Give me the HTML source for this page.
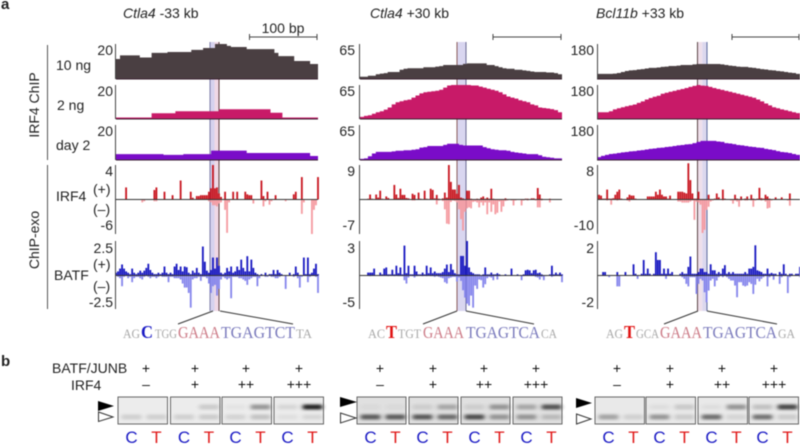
<!DOCTYPE html>
<html lang="en">
<head>
<meta charset="utf-8">
<title>ChIP and ChIP-exo tracks with gel shift</title>
<style>
html,body{margin:0;padding:0;background:#fff;width:800px;height:445px;overflow:hidden}
svg{display:block;font-family:"Liberation Sans",sans-serif;filter:blur(0.45px)}
text{fill:#222}
</style>
</head>
<body>
<svg id="fig" xmlns="http://www.w3.org/2000/svg" width="800" height="445" viewBox="0 0 800 445">
  <rect width="800" height="445" fill="#fff"/>
  <text x="1" y="9" font-size="15" font-weight="bold" fill="#000">a</text>
  <text x="1" y="366" font-size="15" font-weight="bold" fill="#000">b</text>

  <text x="123" y="18" font-size="14"><tspan font-style="italic">Ctla4</tspan> -33 kb</text>
  <text x="370" y="18" font-size="14"><tspan font-style="italic">Ctla4</tspan> +30 kb</text>
  <text x="596" y="18" font-size="14"><tspan font-style="italic">Bcl11b</tspan> +33 kb</text>
  <text x="283" y="33" font-size="14" text-anchor="middle">100 bp</text>

  <text transform="translate(39,105) rotate(-90)" font-size="14" text-anchor="middle">IRF4 ChIP</text>
  <text transform="translate(39,240) rotate(-90)" font-size="14" text-anchor="middle">ChIP-exo</text>
  <line x1="47.5" x2="47.5" y1="45" y2="160" stroke="#555"/>
  <line x1="47.5" x2="47.5" y1="165" y2="309" stroke="#555"/>

  <text x="56" y="70" font-size="14">10 ng</text>
  <text x="57" y="110" font-size="14">2 ng</text>
  <text x="56" y="150" font-size="14">day 2</text>
  <text x="56" y="201" font-size="14">IRF4</text>
  <text x="54" y="280" font-size="14">BATF</text>
  <text x="93" y="194" font-size="14">(+)</text>
  <text x="93" y="214" font-size="14">(–)</text>
  <text x="93" y="269" font-size="14">(+)</text>
  <text x="93" y="291" font-size="14">(–)</text>

  <g id="tracks"></g>

  <text x="52" y="373" font-size="14">BATF/JUNB</text>
  <text x="71" y="390" font-size="14">IRF4</text>

  <defs>
    <filter id="bandBlur" x="-50%" y="-200%" width="200%" height="500%"><feGaussianBlur stdDeviation="2.2 1.4"/></filter>
  </defs>
  <g id="gels"></g>

  <polygon points="98,401 114,406 98,411" fill="#000"/>
  <polygon points="98.5,412 113,417 98.5,421.500" fill="#fff" stroke="#333"/>
  <polygon points="340,397 357,402 340,407" fill="#000"/>
  <polygon points="340.500,413 356,418 340.500,423" fill="#fff" stroke="#333"/>
  <polygon points="576,398 592,403 576,408" fill="#000"/>
  <polygon points="576.500,414 591,419 576.500,424" fill="#fff" stroke="#333"/>
</svg>

<script>
// ---- Track values (per position bin). ChIP tracks have 51 bins, ChIP-exo tracks 101 bins.
const ctla4Minus33_10ng = [11.4,13.5,13.5,13.5,13.5,13.5,12.3,12.3,12.3,14.9,14.9,14.9,14.9,15.4,15.4,15.4,15.4,15.4,15.4,16.6,16.6,16.6,17.7,17.7,17.7,20,20,20,18.9,18.3,18.3,18.3,18.3,17.1,17.1,17.1,17.1,17.1,17.1,17.1,14.9,13.1,13.1,13.1,13.1,10.3,10.3,10.3,10.3,8.6,8.6];
const ctla4Minus33_2ng = [.9,.9,.9,.9,.9,.9,.9,.9,.9,3.4,3.4,3.4,3.4,3.4,3.4,4.6,4.6,4.6,4.6,4.6,4.6,4.6,4.6,4.6,4.6,4.6,5.7,5.7,5.7,5.7,5.7,5.7,5.7,5.7,5.7,5.7,5.7,5.7,5.7,3.7,3.7,3.7,.9,.9,.9,.9,.9,.9,.9,.9,.9];
const ctla4Minus33_day2 = [3.4,3.4,3.4,3.4,3.4,3.4,3.4,3.4,3.4,3.4,3.4,3.4,2.9,2.9,2.9,2.9,2.9,3.4,3.4,3.4,3.4,3.4,3.4,3.4,5.4,5.4,5.4,5.4,5.4,5.4,5.4,5.4,5.4,4,4,4,4,4,4,4,4,4,4,4,4,4,4,4,4,2.3,2.3];
const ctla4Plus30_10ng = [4,4,6,6,9,10,11,13,13,13,17,19,20,20,20,20,22,22,22,23,24,26,26,26,26,26,28,29,29,29,29,29,26,26,24,22,20,19,19,17,17,16,15,14,13,13,13,12,12,11,9];
const ctla4Plus30_2ng = [4,6,7,10,13,15,18,22,28,32,34,36,37,41,45,49,51,52,53,54,56,60,64,65,65,65,65,65,64,64,62,60,58,56,54,51,47,43,41,39,36,34,32,28,26,22,21,20,19,17,13];
const ctla4Plus30_day2 = [2,3,7,12,15,15,15,15,16,17,17,18,18,19,20,23,24,26,26,26,26,28,30,30,30,28,27,27,27,27,27,24,22,20,19,18,18,17,15,14,13,12,11,11,11,9,6,5,4,3,3];
const bcl11bPlus33_10ng = [26,26,26,26,28,31,36,41,44,46,49,51,54,57,57,59,62,64,67,67,69,72,72,72,75,77,77,77,77,77,77,75,72,69,67,64,62,62,59,57,54,51,49,46,44,41,39,36,33,31,26];
const bcl11bPlus33_2ng = [36,36,36,41,51,57,62,67,72,77,85,93,103,111,118,123,134,139,144,149,154,159,164,170,175,180,177,175,170,164,159,154,149,144,139,134,128,123,118,113,103,93,82,72,62,57,51,46,41,36,31];
const bcl11bPlus33_day2 = [15,21,26,31,33,36,39,41,44,46,49,51,54,57,59,62,64,67,69,72,75,77,80,82,87,93,98,98,98,98,95,93,87,85,82,77,75,72,69,67,64,62,57,54,51,46,41,39,36,31,26];

const ctla4Minus33_irf4Plus = [0,0,0,0,0,1.4,0,0,0,0, 0,0,0,0,0,0,0,0,0,1.1, 1.4,0,0,0,.9,0,0,0,.5,0, 0,0,2.2,0,0,0,0,.9,.2,0, .4,.4,.5,.5,.5,.5,.9,1.3,4,1.3, 1.4,.7,.3,0,.9,0,0,0,.9,0, .9,0,0,0,.9,.6,.5,.5,0,0, 0,0,2.2,.4,0,.9,0,0,0,.5, 0,0,0,0,0,0,0,0,.6,.9, 0,0,2.6,0,0,0,0,0,0,0,2.6];
const ctla4Minus33_irf4Minus = [0,0,0,0,0,0,0,0,0,0, 0,0,0,-.5,-.3,0,0,0,0,-.3, -.3,0,0,0,0,0,0,0,0,0, 0,0,0,0,0,0,0,0,0,0, 0,0,0,0,0,0,-.3,-.5,-1,-1, -1.2,-.7,-.5,0,-1.8,-5.8,-.5,0,0,0, 0,0,0,0,0,0,0,0,-.7,0, 0,0,0,-1.2,-.3,0,-.9,-.3,0,0, 0,0,0,0,-.3,0,0,0,0,0, 0,0,-2.5,-.5,0,0,0,-6,-1.8,-1,0];
const ctla4Minus33_batfPlus = [.2,.3,.5,.8,.5,.3,.2,.1,.5,.2, .1,.2,.35,.2,.35,.55,.85,.4,.2,.1, .1,.2,.1,.2,.65,.2,.1,.2,.1,.65, .85,.4,.65,.3,.65,.6,.2,.1,.35,.2, .55,.2,.1,2.1,1,.35,.2,.4,1.3,.5, 1.3,.7,.2,.1,.2,.55,.3,.65,.2,.3, .65,.4,1.15,.55,.3,1.4,.3,1.15,.55,.2, .1,0,.1,0,.2,0,.1,.1,.4,.1, .4,.2,.1,0,0,0,.2,0,.1,.65, .2,0,0,1.3,.1,1.3,.1,.2,.5,.85,.1];
const ctla4Minus33_batfMinus = [0,-.1,-.2,-.8,-.1,0,-.2,-.1,-.5,-.2, -.1,-.1,-.2,-.3,-.1,0,-.1,-.2,-.1,-.1, -.2,-.1,0,-.1,-.1,-.1,-.5,-.1,-.1,-.2, -.2,-.2,-.3,-.6,-.9,-.9,-1.3,-2.4,-.3,-.2, -.2,-.1,-.4,-.1,-.1,-.2,-.6,-1.3,-.8,-.7, -1.5,-1,-.3,-.1,-.2,-.3,-.2,-1.7,-.1,-.1, -.1,-.2,-.2,-.3,-.4,-.7,-.3,-.2,-.1,-.1, -.8,-.2,0,0,-.1,-.1,0,-.1,-.1,-.2, -.2,-.1,0,0,-1,0,0,0,-.1,0, -.2,-.9,-.1,0,0,-.5,-.1,0,0,-.1,-1.3];

const ctla4Plus30_irf4Plus = [0,0,0,0,.2,1.3,.2,0,1.3,.5, 2.3,.2,0,.8,.4,0,0,3.8,1.3,.4, 2.8,1.2,1.2,.4,.3,0,1.5,1.2,0,1.8, .2,0,2.3,.2,0,2.8,2.5,.3,1.2,.2, 0,.3,1.8,.5,9,4.6,2.6,2.6,1.5,3.8, .5,.3,0,2.3,2.3,.2,0,0,.2,.1, .5,.8,.2,.5,.2,2.8,.2,0,0,0, .1,.1,.3,0,0,0,0,0,0,.1, .1,0,.2,.2,0,.3,.3,.1,3,1.3, .2,0,0,0,.2,0,0,0,.1,.1,0];
const ctla4Plus30_irf4Minus = [0,0,0,0,0,0,0,0,0,0, 0,0,0,0,0,0,0,0,0,0, 0,0,0,0,0,0,-.2,-.2,0,0, 0,0,0,0,0,0,0,0,-1,-.2, 0,-.3,-2,-4.9,-5,-.5,-.2,-.3,-.6,-2, -4,-6.3,-2.5,-1.8,-1.6,-1.8,-.5,-.4,-.6,-1.6, -.6,-1.2,-.6,-3,-.6,-2.5,-1,-3,-2.7,-.4, -2.5,-1.4,-.3,-.2,0,-.2,-1.2,-.2,0,0, -1.2,-.2,0,-.2,0,0,0,-.2,-1.6,-1.6, -.2,0,0,0,-.6,0,0,0,0,0,0];
const ctla4Plus30_batfPlus = [0,0,0,0,.25,.25,.25,.6,0,0, .25,.1,.6,.7,.1,.1,.5,.1,.85,.2, .7,.1,2.6,.2,.85,.1,.1,.85,.35,.1, .1,.25,.1,.85,.2,.7,.2,.35,.2,.2, .2,.3,.6,.95,.3,1,.5,.2,.1,.1, 1.7,1.7,.85,3,.7,.3,.2,.1,.1,.1, 0,.1,.7,.1,.1,.25,.1,.1,.2,.1, 0,0,.1,0,0,.6,0,0,.1,0, 0,.1,.45,.5,.45,.2,.45,.5,.2,.25, .1,0,0,0,.1,.85,.1,.25,.1,.25,.1];
const ctla4Plus30_batfMinus = [0,0,0,0,0,-.1,0,0,0,0, 0,0,0,0,-.1,0,0,-.1,0,-.1, -.1,-.1,-.7,-1.2,-.3,0,-.1,-.3,-.1,0, 0,-.1,0,-.1,0,-.1,-.1,-.2,-.1,-.2, -.3,-.4,-1,-1.2,-.4,-.3,-.2,-.2,-.9,-.3, -.8,-2.2,-3.3,-4.2,-4.5,-3,-4.8,-1.5,-2,-.6, -.7,-1.8,-1.3,-.4,-.2,-.3,-.7,-.1,-.6,-.1, 0,0,0,0,0,0,0,0,0,0, -.7,-.1,0,0,0,0,0,-.2,-.3,-.6, -.2,-.7,-.1,0,0,-.2,-.1,0,0,-.1,-1];

const bcl11bPlus33_irf4Plus = [0,1.1,.9,.2,.2,2.3,.2,.2,.3,1.1, 1.8,2.3,.2,0,0,.5,1.1,.9,.9,.2, .1,0,0,0,0,.7,.7,.7,.7,1.8, 1.1,2.3,1.1,.7,.7,.2,.9,.1,0,0, 1.8,1.8,1.8,1.6,1.4,8.4,4.5,1.4,.2,.2, 1.8,.1,.1,.1,.1,1.1,.1,0,.2,1.4, .5,.1,2.3,.2,0,.1,.1,.1,1.1,.2, .1,.7,.1,.2,.7,.1,1.1,.2,.1,.2, 2.7,.3,.2,1.1,.7,.2,.1,.1,.5,.1, .1,.5,.1,.1,.1,1.4,.1,0,0,0,0];
const bcl11bPlus33_irf4Minus = [0,0,0,0,0,-.3,0,-1.5,0,0, -.3,0,0,0,0,-.3,-.6,0,0,0, 0,0,0,0,0,0,0,0,0,0, 0,0,0,0,0,0,0,0,0,0, -.6,-.6,-.9,-.9,-.9,-.9,-.6,-.3,-5.9,-.6, -.9,-1.5,-9.7,-8.8,-3,-2.1,-.6,-.3,0,0, 0,0,-.3,0,0,0,-.3,-1.2,-.3,-.6, -2.1,-.3,0,-.3,-.3,0,-.3,-2.1,-.3,0, 0,-.3,0,-.6,-2.6,-2.4,-.3,0,0,0, 0,0,0,0,-.3,-1.8,0,0,0,0,0];
const bcl11bPlus33_batfPlus = [0,0,0,.2,.2,0,0,0,0,0, .2,0,0,0,.2,0,0,0,.65,.1, 0,0,.1,.9,.1,.4,.1,0,.1,1.35, .9,.9,.1,.4,.1,.4,.1,.2,0,0, 0,.1,.2,.1,.1,.5,1.1,.1,.1,.1, .2,.4,.4,.2,.2,.1,.65,.3,.3,.1, .2,.1,.4,.6,.1,.2,.1,.2,.1,.1, .1,.1,.1,.2,.1,.4,.4,.5,1.75,.3, .25,.2,.1,.1,.4,.1,.15,.1,.1,0, .2,.1,.65,.1,0,.1,.1,0,.1,.1,.5];
const bcl11bPlus33_batfMinus = [0,0,0,0,0,0,-.1,0,0,0, -.65,-.65,0,0,0,0,0,0,0,0, -.2,0,0,0,0,0,0,0,0,0, 0,0,0,0,-.2,0,0,0,0,0, 0,0,-.1,-.2,-.5,-.65,-.1,-.1,-.1,-1.1, -.5,-.2,-.3,-1,-1.6,-.9,-.3,-.2,-.65,-.3, -.1,0,-.1,0,-.1,-.2,-.3,-.3,-.6,-1.3, -.4,-.4,-.6,-.65,-.6,-.4,-.5,-1.1,-.55,-.2, -.35,-.2,-.1,0,-.65,-.1,0,-.25,0,0, -.5,-.1,0,0,-1.05,-.1,0,0,0,0,-.1];

// ---- Axis tick labels
const panelNames = ['ctla4-33kb','ctla4-30kb','bcl11b-33kb'];
const chipTopLabels = [20,65,180];
const irf4TopLabels = [4,9,8];
const irf4BottomLabels = [-6,-7,-10];
const batfTopLabels = [2.5,3,2];
const batfBottomLabels = [-2.5,-5,-2];

// ---- Gel band intensities: one row per binding reaction, [C upper, T upper, C lower, T lower]
const gelPanel1 = [[0,0,.14,.14],[0,.16,.14,.16],[.04,.42,.12,.2],[.1,1,.06,.1]];
const gelPanel2 = [[.03,.03,.7,.7],[.1,.3,.72,.62],[.1,.4,.78,.4],[.3,.75,.4,.2]];
const gelPanel3 = [[0,0,.35,.12],[.05,.16,.42,.15],[.05,.42,.62,.1],[.2,.82,.6,.15]];
const topRowLabels = ['+','+','+','+'];
const bottomRowLabels = ['–','+','++','+++'];

// ---- Layout (not data)
const layouts = [
  {x0:116, w:202, axis:115.5, labelR:113, hi:[210,219], hiL:'#7c7ca8', hiR:'#5a3a3a', fill:['#d6d2ee','#f0d8e6'], scale:[249.5,317],
   zoomA:[[213,178],[220,293]], tickCols:[146,195,246,299], gelX:[118,170.5,222,274], gw:49.5, gelBg:'#ececec', gelData:gelPanel1},
  {x0:360, w:202, axis:359.5, labelR:355, hi:[457,466], hiL:'#8a5a5a', hiR:'#6a6a94', fill:['#d9d6f0','#d9d6f0'], scale:[493,561],
   zoomA:[[457,423],[466,534]], tickCols:[380,433,484,536], gelX:[357,409,461,513], gw:49, gelBg:'#e0e0e0', gelData:gelPanel2},
  {x0:597, w:203, axis:597.5, labelR:594, hi:[697.5,707], hiL:'#5a4444', hiR:'#5c6a9c', fill:['#eedfea','#dcd8ee'], scale:[732,799],
   zoomA:[[698,664],[707,777]], tickCols:[617,670,722,774], gelX:[595,646,698,749], gw:49.5, gelBg:'#e9e9e9', gelData:gelPanel3}
];
const seqLayouts = [
  [['AG',123,17,0],['C',141,12,1],['TGG',155,22,0],['GAAA',178,42,2],['TGAGTCT',221,74,3],['TA',296,16,0]],
  [['AC',368,17,0],['T',386,11,4],['TGT',398,23,0],['GAAA',423,41,2],['TGAGTCA',466,74,3],['CA',541,16,0]],
  [['AG',606,17,0],['T',624,11,4],['GCA',636,23,0],['GAAA',660,42,2],['TGAGTCA',703,74,3],['GA',778,17,0]]
];
const seqStyles = [
  {fill:'#a8a8a8',size:13,weight:'normal'},
  {fill:'#1a1ac4',size:18,weight:'bold'},
  {fill:'#cc7a86',size:17,weight:'normal'},
  {fill:'#7a7abc',size:17,weight:'normal'},
  {fill:'#e01010',size:18,weight:'bold'}
];
const chipTracks = [
  {base:79, top:44, color:'#4a3f42', name:'10ng', data:[ctla4Minus33_10ng,ctla4Plus30_10ng,bcl11bPlus33_10ng]},
  {base:119, top:85, color:'#c81a68', name:'2ng', data:[ctla4Minus33_2ng,ctla4Plus30_2ng,bcl11bPlus33_2ng]},
  {base:160, top:125, color:'#7a0cc8', name:'day2', data:[ctla4Minus33_day2,ctla4Plus30_day2,bcl11bPlus33_day2]}
];
const exoTracks = [
  {base:199.5, top:165, bottom:234, plusColor:'#c8141e', minusColor:'#f59aa0', name:'irf4',
   plus:[ctla4Minus33_irf4Plus,ctla4Plus30_irf4Plus,bcl11bPlus33_irf4Plus],
   minus:[ctla4Minus33_irf4Minus,ctla4Plus30_irf4Minus,bcl11bPlus33_irf4Minus],
   topL:irf4TopLabels, botL:irf4BottomLabels, topY:176, botY:234},
  {base:275.5, top:241, bottom:309, plusColor:'#1616c0', minusColor:'#8484ec', name:'batf',
   plus:[ctla4Minus33_batfPlus,ctla4Plus30_batfPlus,bcl11bPlus33_batfPlus],
   minus:[ctla4Minus33_batfMinus,ctla4Plus30_batfMinus,bcl11bPlus33_batfMinus],
   topL:batfTopLabels, botL:batfBottomLabels, topY:253, botY:311}
];

const SVGNS = 'http://www.w3.org/2000/svg';
function add(parent, tag, attrs, txt) {
  const el = document.createElementNS(SVGNS, tag);
  for (const k in attrs) el.setAttribute(k, attrs[k]);
  if (txt !== undefined) el.textContent = txt;
  parent.appendChild(el);
  return el;
}
function linearY(base, far, max) { return v => base - (v / max) * (base - far); }
function label(parent, text, x, y, anchor, name) {
  const el = add(parent, 'text', {x:x, y:y, 'font-size':14, 'text-anchor':anchor}, text);
  
  
  return el;
}

const tracksG = document.getElementById('tracks');
layouts.forEach((L, p) => {
  const g = add(tracksG, 'g', {});
  
  

  // highlighted motif strip
  const midX = (L.hi[0] + L.hi[1]) / 2;
  let el = add(g, 'rect', {x:L.hi[0], y:42, width:midX - L.hi[0], height:269, fill:L.fill[0]});
  
  
  el = add(g, 'rect', {x:midX, y:42, width:L.hi[1] - midX, height:269, fill:L.fill[1]});
  
  
  el = add(g, 'line', {x1:L.hi[0], x2:L.hi[0], y1:42, y2:311, stroke:L.hiL, 'stroke-width':1});
  
  
  el = add(g, 'line', {x1:L.hi[1], x2:L.hi[1], y1:42, y2:311, stroke:L.hiR, 'stroke-width':1});
  
  

  // zoom lines to sequence
  L.zoomA.forEach((pair, i) => {
    const z = add(g, 'line', {x1:pair[0], y1:311, x2:pair[1], y2:324, stroke:'#333', 'stroke-width':1});
    
    
  });

  // scale bar
  const sb = add(g, 'path', {d:`M${L.scale[0]} 34V40M${L.scale[0]} 37H${L.scale[1]}M${L.scale[1]} 34V40`, stroke:'#444', fill:'none', 'stroke-width':1});
  
  

  // ChIP area tracks
  chipTracks.forEach(T => {
    const vals = T.data[p];
    const xS = i => L.x0 + i * L.w / vals.length;
    const yS = linearY(T.base, T.top, chipTopLabels[p]);
    let d = `M${xS(0)} ${T.base}`;
    vals.forEach((v, i) => { d += `V${yS(v).toFixed(1)}H${xS(i + 1).toFixed(1)}`; });
    d += `V${T.base}Z`;
    const area = add(g, 'path', {d:d, fill:T.color});
    
    
    const bl = add(g, 'line', {x1:L.x0, x2:L.x0 + L.w, y1:T.base, y2:T.base, stroke:'#3a2030', 'stroke-width':1});
    
    
    const ax = add(g, 'line', {x1:L.axis, x2:L.axis, y1:T.top, y2:T.base, stroke:'#444', 'stroke-width':1});
    
    
    label(g, chipTopLabels[p], L.labelR, T.top + 11, 'end', 'chip-y-tick-' + T.name);
  });

  // ChIP-exo bar tracks
  exoTracks.forEach(T => {
    const plus = T.plus[p], minus = T.minus[p];
    const xS = i => L.x0 + i * L.w / (plus.length - 1);
    const yPlus = linearY(T.base, T.top, T.topL[p]);
    const yMinus = linearY(T.base, T.bottom, -T.botL[p]);
    minus.forEach((v, i) => {
      if (!v) return;
      const bar = add(g, 'rect', {x:xS(i) - 0.9, y:T.base, width:1.8, height:yMinus(-v) - T.base, fill:T.minusColor});
      
      
    });
    plus.forEach((v, i) => {
      if (!v) return;
      const bar = add(g, 'rect', {x:xS(i) - 0.9, y:yPlus(v), width:1.8, height:T.base - yPlus(v), fill:T.plusColor});
      
      
    });
    const bl = add(g, 'line', {x1:L.x0, x2:L.x0 + L.w, y1:T.base, y2:T.base, stroke:'#333', 'stroke-width':1});
    
    
    const ax = add(g, 'line', {x1:L.axis, x2:L.axis, y1:T.top, y2:T.bottom, stroke:'#444', 'stroke-width':1});
    
    
    label(g, T.topL[p], L.labelR, T.topY, 'end', 'exo-y-tick-top-' + T.name);
    label(g, T.botL[p], L.labelR, T.botY - 4, 'end', 'exo-y-tick-bottom-' + T.name);
  });

  // motif sequence
  const seq = add(g, 'g', {});
  
  
  seqLayouts[p].forEach(s => {
    const st = seqStyles[s[3]];
    const t = add(seq, 'text', {x:s[1], y:338, textLength:s[2], lengthAdjust:'spacingAndGlyphs',
      'font-size':st.size, 'font-weight':st.weight, style:'font-family:"Liberation Serif",serif;fill:' + st.fill}, s[0]);
    
    
  });
});

// gels
const gelsG = document.getElementById('gels');
const gelTop = 397, gelH = 27, upperOff = 10, lowerOff = 20, laneC = 13.5, laneT = 38.5;
layouts.forEach((L, p) => {
  L.gelData.forEach((row, i) => {
    const gx = L.gelX[i];
    const g = add(gelsG, 'g', {});
    
    
    const bg = add(g, 'rect', {x:gx, y:gelTop, width:L.gw, height:gelH, fill:L.gelBg});
    
    
    const offs = [[laneC, upperOff], [laneT, upperOff], [laneC, lowerOff], [laneT, lowerOff]];
    row.forEach((v, j) => {
      if (!v) return;
      const b = add(g, 'rect', {x:gx + offs[j][0] - 10, y:gelTop + offs[j][1] - 2.5, width:20, height:5, rx:2,
        fill:'#222', opacity:v, filter:'url(#bandBlur)'});
      
      
    });
    const fr = add(g, 'rect', {x:gx, y:gelTop, width:L.gw, height:gelH, fill:'none', stroke:'#666', 'stroke-width':1});
    
    
    const c = add(g, 'text', {x:gx + laneC, y:443, 'font-size':17, 'text-anchor':'middle', style:'fill:#1a1ac4'}, 'C');
    
    
    const tt = add(g, 'text', {x:gx + laneT, y:443, 'font-size':17, 'text-anchor':'middle', style:'fill:#e01818'}, 'T');
    
    
    const top = add(g, 'text', {x:L.tickCols[i], y:373, 'font-size':14, 'text-anchor':'middle', style:'fill:#111'}, topRowLabels[i]);
    
    
    const bot = add(g, 'text', {x:L.tickCols[i], y:389, 'font-size':14, 'text-anchor':'middle', style:'fill:#111'}, bottomRowLabels[i]);
    
    
  });
});
</script>
</body>
</html>
